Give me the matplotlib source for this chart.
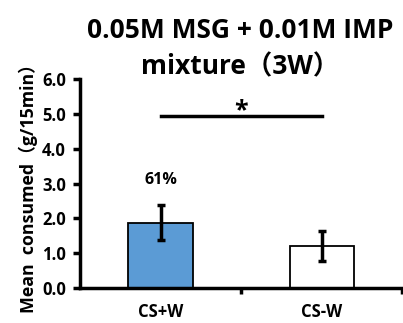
import numpy as np
import matplotlib.pyplot as plt

plt.rcParams['font.family'] = ['Open Sans', 'Noto Sans CJK JP', 'DejaVu Sans']
plt.rcParams['font.weight'] = 'bold'

groups = ['CS+W', 'CS-W']
means = [1.88, 1.2]
errs = [0.5, 0.43]
colors = ['#5B9BD5', 'white']
pct_label = '61%'
pct_y = 3.0
sig_y = 4.95

fig = plt.figure(figsize=(4.03, 3.23), dpi=100)
ax = fig.add_axes([0.1985, 0.108, 0.8, 0.647])
x = np.arange(len(groups))
ax.bar(x, means, width=0.4, color=colors, edgecolor='black', linewidth=1.3,
       yerr=errs, error_kw=dict(ecolor='black', elinewidth=2.5, capsize=3, capthick=2.5))
ax.set_xlim(-0.5, 1.5)
ax.set_ylim(0, 6)
ax.set_yticks(np.arange(0, 6.1, 1))
ax.set_yticklabels(['%.1f' % v for v in np.arange(0, 6.1, 1)], fontsize=12, fontweight='bold')
ax.set_xticks([0.5, 1.5], minor=False)
ax.set_xticklabels(['', ''])
ax.set_xticks(x, minor=True)
ax.set_xticklabels(groups, minor=True, fontsize=12, fontweight='bold')
ax.tick_params(axis='x', which='minor', length=0, pad=11)
ax.tick_params(axis='x', which='major', length=4, width=2.5, direction='out')
ax.tick_params(axis='y', length=5, width=2.5, direction='out', pad=5)
for s in ['top', 'right']:
    ax.spines[s].set_visible(False)
for s in ['left', 'bottom']:
    ax.spines[s].set_linewidth(2.5)
ax.set_ylabel('Mean  consumed（g/15min）', fontsize=12.8, fontweight='bold', labelpad=3)

ax.plot([0, 1], [sig_y, sig_y], color='black', lw=2.5, clip_on=False)
ax.text(0.5, sig_y - 0.03, '*', ha='center', va='baseline', fontsize=18, fontweight='bold')
ax.text(0, pct_y, pct_label, ha='center', va='baseline', fontsize=11.5, fontweight='bold')

fig.text(0.595, 0.85, '0.05M MSG + 0.01M IMP\nmixture（3W）', ha='center', va='center',
         fontsize=19, fontweight='bold', linespacing=1.45)

fig.savefig('out.png', dpi=100)
